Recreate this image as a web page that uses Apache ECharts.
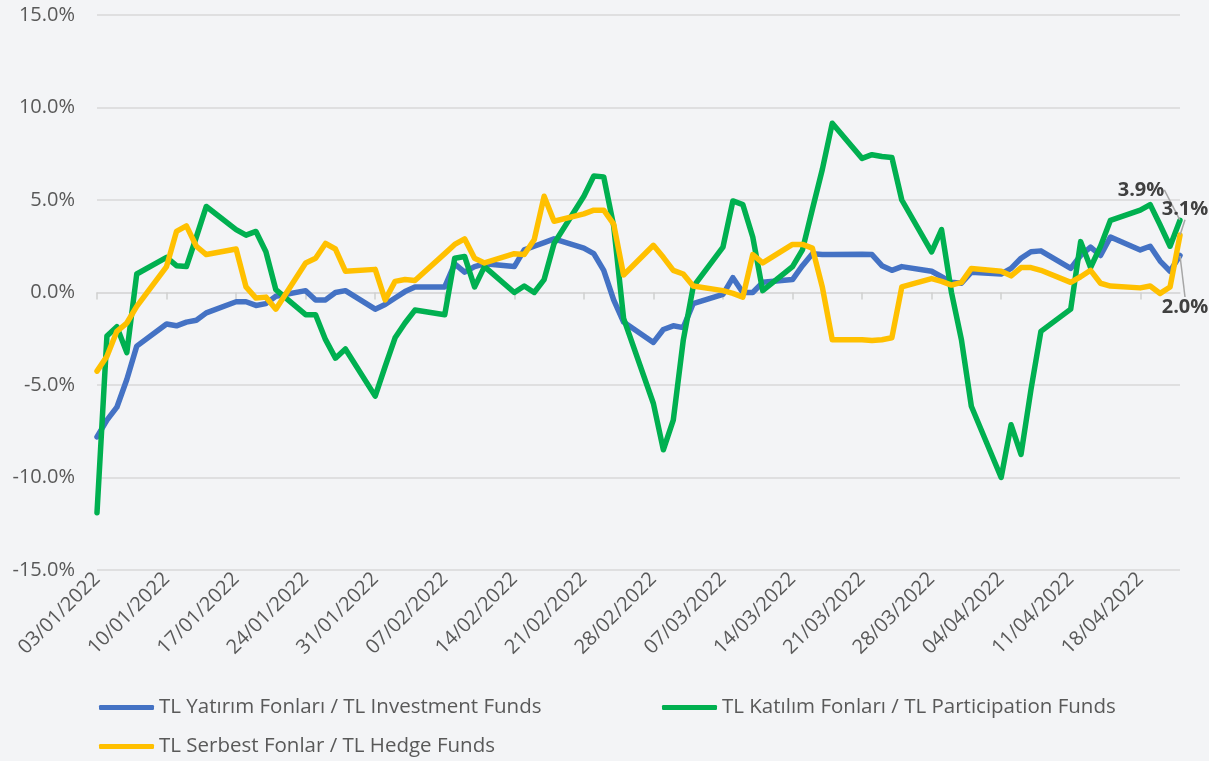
<!DOCTYPE html>
<html>
<head>
<meta charset="utf-8">
<script src="https://cdn.jsdelivr.net/npm/echarts@6/dist/echarts.min.js"></script>
<style>
  html, body { margin: 0; padding: 0; background: #f3f4f6; }
  #chart { width: 1209px; height: 761px; }
</style>
</head>
<body>
<div id="chart"></div>
<script>
// weekly ticks, every Monday
const tickLabels = ['03/01/2022', '10/01/2022', '17/01/2022', '24/01/2022', '31/01/2022', '07/02/2022',
  '14/02/2022', '21/02/2022', '28/02/2022', '07/03/2022', '14/03/2022', '21/03/2022',
  '28/03/2022', '04/04/2022', '11/04/2022', '18/04/2022'];

// business days 03/01/2022 .. 22/04/2022, as day offsets from 03/01
const lastDay = 109;
const dayOffsets = [];
for (let d = 0; d <= lastDay; d++) {
  if (d % 7 < 5) dayOffsets.push(d);
}

// one row per week (Mon..Fri)
const investment = [
  -7.8, -6.9, -6.2, -4.7, -2.9,
  -1.7, -1.8, -1.6, -1.5, -1.1,
  -0.5, -0.5, -0.7, -0.6, -0.2,
  0.1, -0.4, -0.4, 0.0, 0.1,
  -0.9, -0.65, -0.3, 0.05, 0.3,
  0.3, 1.55, 1.1, 1.4, 1.55,
  1.4, 2.3, 2.5, 2.7, 2.9,
  2.4, 2.1, 1.2, -0.4, -1.6,
  -2.7, -2.0, -1.8, -1.9, -0.6,
  -0.1, 0.8, 0.0, 0.0, 0.55,
  0.7, 1.45, 2.1, 2.05, 2.05,
  2.07, 2.05, 1.45, 1.2, 1.4,
  1.15, 0.85, 0.55, 0.5, 1.1,
  1.0, 1.3, 1.85, 2.2, 2.25,
  1.3, 2.0, 2.45, 2.0, 3.0,
  2.3, 2.5, 1.7, 1.15, 2.0
];
const participation = [
  -11.9, -2.35, -1.85, -3.25, 1.0,
  1.9, 1.45, 1.4, 3.0, 4.65,
  3.4, 3.1, 3.3, 2.2, 0.15,
  -1.2, -1.2, -2.55, -3.55, -3.05,
  -5.6, -4.0, -2.45, -1.65, -0.95,
  -1.2, 1.85, 1.95, 0.3, 1.4,
  0.0, 0.35, 0.0, 0.7, 2.65,
  5.2, 6.3, 6.25, 3.6, -1.4,
  -6.0, -8.5, -6.9, -2.6, 0.3,
  2.45, 4.95, 4.75, 3.0, 0.1,
  1.4, 2.3, 4.5, 6.65, 9.15,
  7.25, 7.45, 7.35, 7.3, 5.0,
  2.2, 3.4, 0.0, -2.55, -6.15,
  -10.0, -7.15, -8.75, -5.25, -2.1,
  -0.9, 2.75, 1.35, 2.5, 3.9,
  4.45, 4.75, 3.65, 2.5, 3.9
];
const hedge = [
  -4.25, -3.45, -2.1, -1.65, -0.75,
  1.4, 3.3, 3.6, 2.5, 2.05,
  2.35, 0.3, -0.3, -0.25, -0.9,
  1.6, 1.85, 2.65, 2.35, 1.15,
  1.25, -0.4, 0.6, 0.7, 0.65,
  2.1, 2.6, 2.9, 1.85, 1.6,
  2.1, 2.05, 2.85, 5.2, 3.85,
  4.25, 4.45, 4.45, 3.7, 0.95,
  2.55, 1.9, 1.2, 1.0, 0.35,
  0.1, -0.05, -0.25, 2.05, 1.6,
  2.6, 2.6, 2.4, 0.3, -2.55,
  -2.55, -2.6, -2.55, -2.45, 0.3,
  0.75, 0.6, 0.4, 0.55, 1.3,
  1.15, 0.9, 1.35, 1.35, 1.2,
  0.55, 0.85, 1.2, 0.5, 0.35,
  0.25, 0.35, -0.05, 0.3, 3.1
];

const seriesNames = [
  'TL Yatırım Fonları / TL Investment Funds',
  'TL Katılım Fonları / TL Participation Funds',
  'TL Serbest Fonlar / TL Hedge Funds'
];
const colors = ['#4472C4', '#00B050', '#FFC000'];

const font = 'Open Sans';
const tickValues = tickLabels.map((_, i) => i * 7);

const toPairs = (vals) => vals.map((v, i) => [dayOffsets[i], v]);

// label on the last point only, nudged like the original
const endLabel = (pos) => ({
  show: true,
  position: pos,
  formatter: (p) => p.value[1].toFixed(1) + '%',
  fontFamily: font,
  fontSize: 20,
  fontWeight: 'bold',
  color: '#404040'
});
const labelShift = {
  0: { dx: 5, dy: 36 },
  1: { dx: -39, dy: -15 },
  2: { dx: 5, dy: -10 }
};

const makeSeries = (idx, vals, pos) => {
  const data = toPairs(vals);
  const last = data.length - 1;
  data[last] = { value: data[last], label: endLabel(pos) };
  return {
    name: seriesNames[idx],
    type: 'line',
    data: data,
    symbol: 'circle',
    symbolSize: 1,
    showSymbol: true,
    lineStyle: { width: 5.5, color: colors[idx], join: 'round', cap: 'round' },
    itemStyle: { color: colors[idx] },
    label: { show: false },
    labelLine: { show: true, lineStyle: { color: '#a6a6a6', width: 1.5 } },
    labelLayout: labelShift[idx],
    emphasis: { disabled: true },
    z: 2 + idx
  };
};

const chart = echarts.init(document.getElementById('chart'));

const legendBase = {
  orient: 'horizontal',
  icon: 'roundRect',
  itemWidth: 55,
  itemHeight: 5,
  textStyle: { fontFamily: font, fontSize: 20.5, color: '#595959' }
};

const option = {
  backgroundColor: '#f3f4f6',
  animation: false,
  color: colors,
  grid: { left: 97, right: 29, top: 15, bottom: 191 },
  legend: [
    Object.assign({}, legendBase, { data: [seriesNames[0]], left: 94, top: 692 }),
    Object.assign({}, legendBase, { data: [seriesNames[1]], left: 657, top: 692 }),
    Object.assign({}, legendBase, { data: [seriesNames[2]], left: 94, top: 731 })
  ],
  xAxis: [
    {
      type: 'value',
      min: 0,
      max: lastDay,
      position: 'bottom',
      axisLine: { show: false, onZero: false },
      axisTick: { show: false },
      splitLine: { show: false },
      axisLabel: {
        customValues: tickValues,
        rotate: 45,
        margin: 6,
        fontFamily: font,
        fontSize: 20,
        color: '#595959',
        formatter: (v) => tickLabels[Math.round(v / 7)]
      }
    },
    {
      // zero line with weekly tick marks
      type: 'value',
      min: 0,
      max: lastDay,
      position: 'bottom',
      axisLine: { show: true, onZero: true, lineStyle: { color: '#d9d9d9', width: 1.5 } },
      axisTick: { show: true, customValues: tickValues, length: 7, lineStyle: { color: '#d0d0d0', width: 1.5 } },
      axisLabel: { show: false },
      splitLine: { show: false }
    }
  ],
  yAxis: {
    type: 'value',
    min: -15,
    max: 15,
    interval: 5,
    axisLine: { show: false },
    axisTick: { show: false },
    splitLine: { lineStyle: { color: '#d9d9d9', width: 1.5 } },
    axisLabel: {
      margin: 22,
      fontFamily: font,
      fontSize: 20,
      color: '#595959',
      formatter: (v) => v.toFixed(1) + '%'
    }
  },
  series: [
    makeSeries(0, investment, 'bottom'),
    makeSeries(1, participation, 'top'),
    makeSeries(2, hedge, 'top')
  ]
};

chart.setOption(option);
</script>
</body>
</html>
